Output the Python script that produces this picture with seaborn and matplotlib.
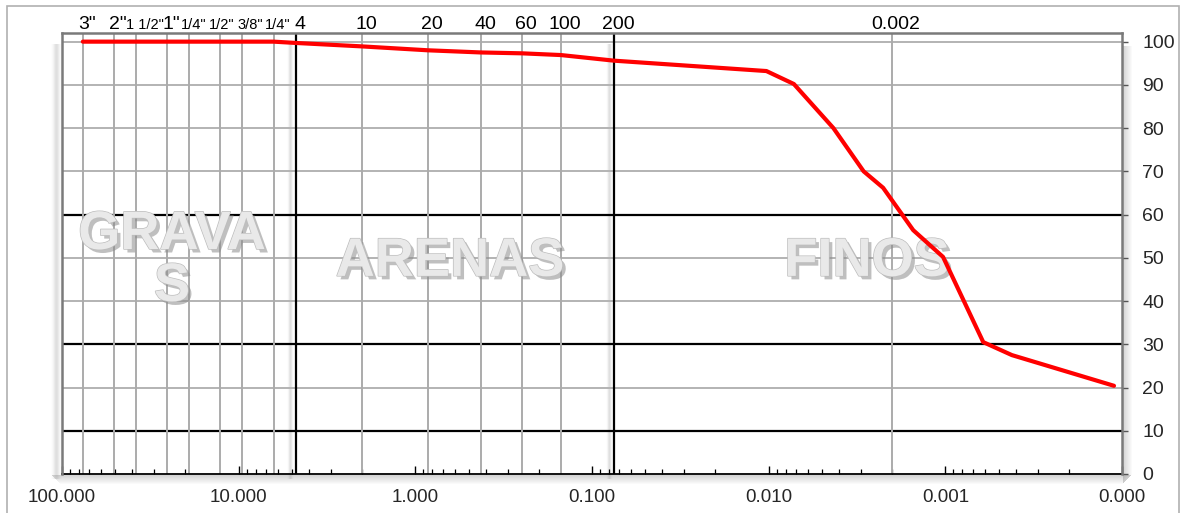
import numpy as np
import pandas as pd
import matplotlib
matplotlib.use("Agg")
import matplotlib.pyplot as plt
import matplotlib.patheffects as pe
import matplotlib.transforms as mtransforms
from matplotlib.patches import Rectangle
import seaborn as sns

# Grain-size distribution: particle diameter (mm) and percent passing
diametro_mm = [76.2, 50.8, 38.1, 25.4, 19.05, 12.7, 9.525, 6.35, 4.75,
               2.0, 0.85, 0.425, 0.25, 0.15, 0.075,
               0.0103, 0.0072, 0.0043, 0.0029, 0.00225, 0.00152, 0.00103,
               0.00061, 0.00042, 0.000111]
pasa_pct = [100, 100, 100, 100, 100, 100, 100, 100, 99.7,
            98.9, 98.0, 97.5, 97.3, 96.9, 95.6,
            93.2, 90.2, 80.0, 70.0, 66.2, 56.4, 50.2,
            30.5, 27.5, 20.4]

# Sieve openings (mm) drawn as vertical reference lines, with their names
tamiz_mm = [76.2, 50.8, 38.1, 25.4, 19.05, 12.7, 9.525, 6.35, 4.75,
            2.0, 0.85, 0.425, 0.25, 0.15, 0.075, 0.002]
tamiz_nombre = ['3"', '2"', '1 1/2"', '1"', '1/4"', '1/2"', '3/8"', '1/4"', '4',
                '10', '20', '40', '60', '100', '200', '0.002']
tamiz_chico = [False, False, True, False, True, True, True, True, False,
               False, False, False, False, False, False, False]
tamiz_limite = [4.75, 0.075]          # gravel/sand and sand/fines boundaries

x_ticks = [100, 10, 1, 0.1, 0.01, 0.001, 0.0001]
x_labels = ["100.000", "10.000", "1.000", "0.100", "0.010", "0.001", "0.000"]
y_ticks = list(range(0, 101, 10))
y_negras = [10, 30, 60]

zonas = ["GRAVA\nS", "ARENAS", "FINOS"]
zonas_pos = [(0.1038, 0.483), (0.366, 0.481), (0.7594, 0.481)]

df = pd.DataFrame({"d": diametro_mm, "p": pasa_pct})

W, H, DPI = 1182, 513, 100
sns.set_theme(style="white")
plt.rcParams["font.family"] = ["Liberation Sans", "DejaVu Sans"]

fig = plt.figure(figsize=(W / DPI, H / DPI), dpi=DPI, facecolor="white")
L, R, T, B = 62, 1122, 33, 474
ax = fig.add_axes([L / W, (H - B) / H, (R - L) / W, (B - T) / H])
ax.patch.set_alpha(0)


def px_rect(x0, y0, x1, y1, **kw):
    fig.add_artist(Rectangle((x0 / W, 1 - y1 / H), (x1 - x0) / W, (y1 - y0) / H,
                             transform=fig.transFigure, lw=0, **kw))


# outer chart border
fig.add_artist(Rectangle((7 / W, -0.02), (1179 - 7) / W, (H - 6) / H + 0.02,
                         transform=fig.transFigure, fill=False,
                         edgecolor="#b0b0b0", lw=1.2, zorder=-3))

# soft drop shadows of the plot frame and the three zone boxes
for i in range(9):
    a = 0.30 * (1 - i / 9)
    px_rect(R + 1 + i, 46, R + 2 + i, B + 9 - i, color="0.45", alpha=a, zorder=-2)
    px_rect(52 + i, B + 1 + i, R + 9 - i, B + 2 + i, color="0.45", alpha=a, zorder=-2)
for xc, half in [(56, 5), (290, 3), (609, 3)]:
    for k in range(-half, half + 1):
        a = 0.28 * np.exp(-(k / (half * 0.6)) ** 2)
        px_rect(xc + k, 44, xc + k + 1, B + 5, color="0.55", alpha=a, zorder=-2)

# the gradation curve
sns.lineplot(data=df, x="d", y="p", ax=ax, color="#ff0000", lw=3,
             sort=False, estimator=None, zorder=5)

ax.set_xscale("log")
ax.set_xlim(100, 1e-4)
ax.set_ylim(0, 102)

# horizontal reference lines
for yv in y_ticks[1:]:
    negra = yv in y_negras
    ax.axhline(yv, color="black" if negra else "#b3b3b3",
               lw=1.6 if negra else 1.4, zorder=2)

# vertical sieve lines
for d in tamiz_mm:
    negra = d in tamiz_limite
    ax.axvline(d, color="black" if negra else "#ababab",
               lw=1.6 if negra else 1.4, zorder=2 if not negra else 3)

# sieve names above the frame (small horizontal nudges keep the crowded ones apart)
nudge = {'1 1/2"': 9, '1/2"': 1, '3/8"': 8}
for d, name, small in zip(tamiz_mm, tamiz_nombre, tamiz_chico):
    off = nudge.get(name, 4)
    tr = mtransforms.offset_copy(ax.get_xaxis_transform(), fig=fig, x=off, y=0, units="dots")
    ax.text(d, (B - 29) / (B - T), name, transform=tr, ha="center", va="baseline",
            fontsize=10.5 if small else 14, color="black", clip_on=False)

# zone names with embossed look
for txt, (xf, yf) in zip(zonas, zonas_pos):
    ax.text(xf, yf, txt, transform=ax.transAxes, ha="center", va="center",
            multialignment="center", linespacing=1.05,
            fontsize=39, fontweight="bold", color="#e9e9e9", zorder=4,
            path_effects=[pe.withSimplePatchShadow(offset=(2.5, -2.5),
                                                   shadow_rgbFace="#8c8c8c", alpha=0.55),
                          pe.Stroke(linewidth=1.0, foreground="#bdbdbd"),
                          pe.Normal()])

# axes, ticks and labels
ax.set_xticks(x_ticks)
ax.set_xticklabels(x_labels)
ax.xaxis.set_minor_locator(matplotlib.ticker.LogLocator(base=10, subs=np.arange(2, 10)))
ax.xaxis.set_minor_formatter(matplotlib.ticker.NullFormatter())
ax.tick_params(axis="x", which="major", direction="in", length=6, width=1,
               color="black", labelsize=13.5, pad=11, bottom=True, top=False)
ax.tick_params(axis="x", which="minor", direction="in", length=3.5, width=0.9,
               color="black", bottom=True, top=False)

ax.set_yticks(y_ticks)
ax.yaxis.tick_right()
ax.tick_params(axis="y", which="major", direction="out", length=4.5, width=1,
               color="#555555", labelsize=14, pad=10, left=False, right=True)
ax.set_xlabel("")
ax.set_ylabel("")
ax.grid(False)

for side in ["left", "top", "right"]:
    ax.spines[side].set_color("#7a7a7a")
    ax.spines[side].set_linewidth(1.8)
    ax.spines[side].set_zorder(6)
ax.spines["bottom"].set_color("black")
ax.spines["bottom"].set_linewidth(1.3)

fig.savefig("out.png", dpi=DPI, facecolor="white")
